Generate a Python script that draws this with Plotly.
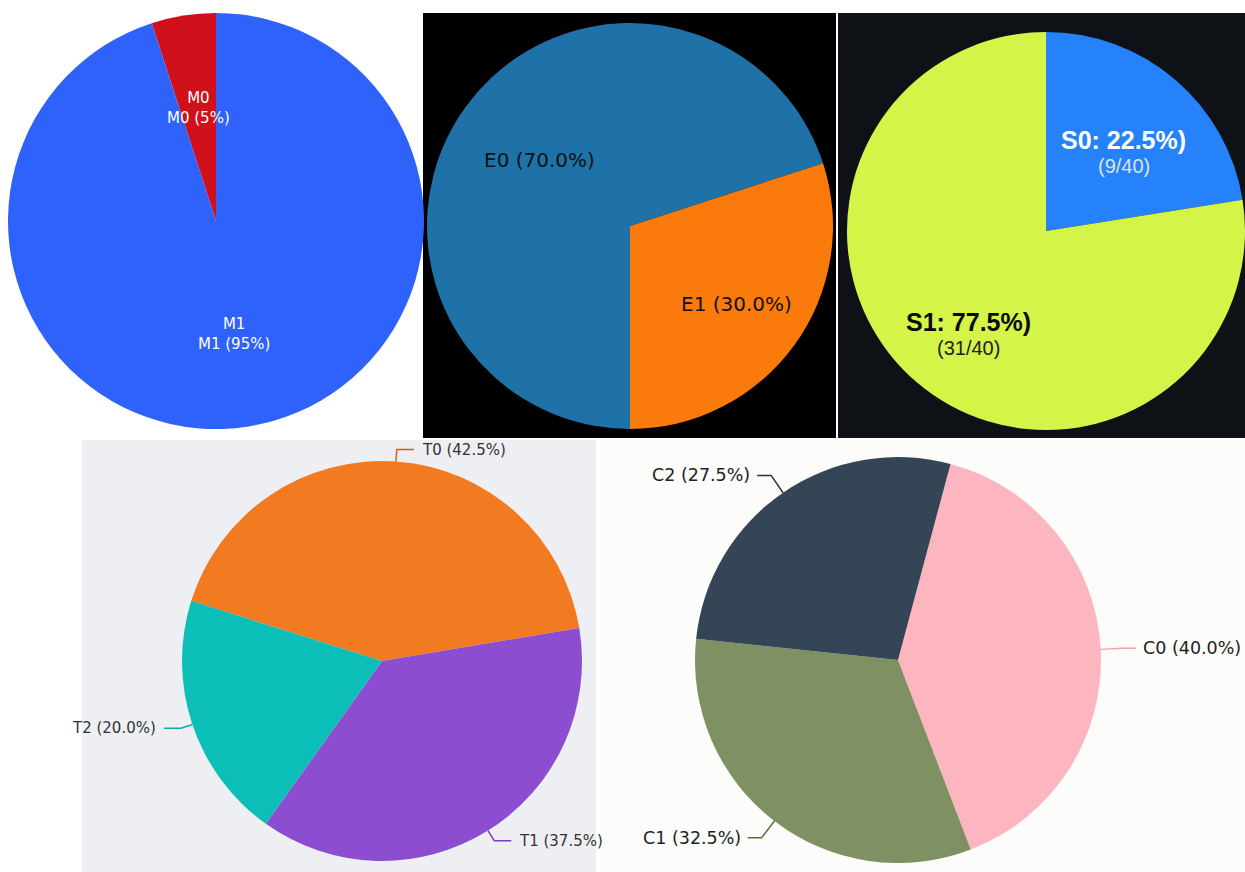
import math
import plotly.graph_objects as go

W, H = 1245, 872

# ---- data ----
m_labels = ["M0", "M1"]
m_values = [5, 95]

e_labels = ["E0", "E1"]
e_counts = [28, 12]

s_labels = ["S0", "S1"]
s_counts = [9, 31]

t_labels = ["T0", "T1", "T2"]
t_counts = [17, 15, 8]

c_labels = ["C0", "C1", "C2"]
c_counts = [16, 13, 11]

# ---- styling ----
m_colors = ["#d0111b", "#2f61fb"]
e_colors = ["#1f72a8", "#fb7a0c"]
s_colors = ["#2582fb", "#d4f447"]
t_colors = ["#f27a21", "#8c4dd1", "#0bbfb8"]
t_line_colors = ["#c0661c", "#7a3db8", "#13a9a2"]
c_colors = ["#fdb6c0", "#7f9062", "#344555"]
c_line_colors = ["#f2a3b0", "#5f6f32", "#2b333b"]

# pie geometry in pixels: centre x, centre y, radius
GEOM = {
    "M": (216, 221, 208),
    "E": (630, 226, 203),
    "S": (1046, 231, 199),
    "T": (382, 661, 200),
    "C": (898, 660, 203),
}


def domain(key):
    cx, cy, r = GEOM[key]
    x0, x1 = max(0, (cx - r) / W), min(1, (cx + r) / W)
    y0, y1 = max(0, 1 - (cy + r) / H), min(1, 1 - (cy - r) / H)
    return dict(x=[x0, x1], y=[y0, y1])


def mids(values, rotation):
    """Mid angles (deg, clockwise from 12 o'clock) of clockwise slices."""
    total = sum(values)
    out, a = [], rotation
    for v in values:
        span = 360.0 * v / total
        out.append(a + span / 2)
        a += span
    return out


def point(key, ang, frac):
    cx, cy, r = GEOM[key]
    rad = math.radians(ang)
    return cx + frac * r * math.sin(rad), cy - frac * r * math.cos(rad)


def paper(px, py):
    return px / W, 1 - py / H


def pct(values):
    t = sum(values)
    return [100.0 * v / t for v in values]


def label(x, y, text, font, xanchor="center"):
    return dict(x=x, y=y, xref="paper", yref="paper", showarrow=False,
                xanchor=xanchor, yanchor="middle", text=text, font=font)


fig = go.Figure()
annotations = []
shapes = []

# panel backgrounds
panels = [
    (423, 13, 836, 438, "#000000"),
    (838, 13, 1245, 438, "#0e1116"),
    (82, 440, 596, 872, "#eeeff2"),
    (600, 440, 1245, 872, "#fcfcfa"),
]
for x0, y0, x1, y1, col in panels:
    shapes.append(dict(type="rect", xref="paper", yref="paper",
                       x0=x0 / W, x1=x1 / W, y0=1 - y1 / H, y1=1 - y0 / H,
                       fillcolor=col, line=dict(width=0), layer="below"))

# ---- M pie ----
m_rot = -360.0 * m_values[0] / sum(m_values)
fig.add_trace(go.Pie(labels=m_labels, values=m_values, sort=False,
                     direction="clockwise", rotation=m_rot,
                     marker=dict(colors=m_colors), textinfo="none",
                     domain=domain("M"), showlegend=False))
for lab, p, ang, f in zip(m_labels, pct(m_values), mids(m_values, m_rot), [0.55, 0.55]):
    x, y = paper(*point("M", ang, f))
    annotations.append(label(x, y, f"{lab}<br>{lab} ({p:.0f}%)",
                             dict(family="DejaVu Sans", size=15, color="#ffffff")))

# ---- E pie ----
e_rot = 180
fig.add_trace(go.Pie(labels=e_labels, values=e_counts, sort=False,
                     direction="clockwise", rotation=e_rot,
                     marker=dict(colors=e_colors), textinfo="none",
                     domain=domain("E"), showlegend=False))
for lab, p, ang, f in zip(e_labels, pct(e_counts), mids(e_counts, e_rot), [0.55, 0.65]):
    x, y = paper(*point("E", ang, f))
    annotations.append(label(x, y, f"{lab} ({p:.1f}%)",
                             dict(family="DejaVu Sans", size=20, color="#111111")))

# ---- S pie ----
fig.add_trace(go.Pie(labels=s_labels, values=s_counts, sort=False,
                     direction="clockwise", rotation=0,
                     marker=dict(colors=s_colors), textinfo="none",
                     domain=domain("S"), showlegend=False))
s_total = sum(s_counts)
s_main = ["#ffffff", "#0a0a0a"]
s_sub = ["#dde3ea", "#222222"]
for i, (lab, n, p, ang) in enumerate(zip(s_labels, s_counts, pct(s_counts), mids(s_counts, 0))):
    px, py = point("S", ang, 0.6)
    x, y = paper(px, py)
    annotations.append(label(x, y, f"<b>{lab}: {p:.1f}%)</b>",
                             dict(family="Liberation Sans", size=25, color=s_main[i])))
    x, y = paper(px, py + 26)
    annotations.append(label(x, y, f"({n}/{s_total})",
                             dict(family="Liberation Sans", size=20, color=s_sub[i])))


def outside_labels(key, labels, values, rotation, line_colors, radial, horiz, gap,
                   size, color):
    for lab, p, ang, lc in zip(labels, pct(values), mids(values, rotation), line_colors):
        cx, cy, r = GEOM[key]
        p0 = point(key, ang, 1.0)
        p1 = point(key, ang, 1.0 + radial / r)
        side = 1 if math.sin(math.radians(ang)) >= 0 else -1
        p2 = (p1[0] + side * horiz, p1[1])
        a, b, c = paper(*p0), paper(*p1), paper(*p2)
        shapes.append(dict(type="path", xref="paper", yref="paper",
                           path=f"M {a[0]},{a[1]} L {b[0]},{b[1]} L {c[0]},{c[1]}",
                           line=dict(color=lc, width=1.5)))
        tx, ty = paper(p2[0] + side * gap, p2[1])
        annotations.append(label(tx, ty, f"{lab} ({p:.1f}%)",
                                 dict(family="DejaVu Sans", size=size, color=color),
                                 xanchor="left" if side > 0 else "right"))


# ---- T pie ----
t_rot = -72.5
fig.add_trace(go.Pie(labels=t_labels, values=t_counts, sort=False,
                     direction="clockwise", rotation=t_rot,
                     marker=dict(colors=t_colors), textinfo="none",
                     domain=domain("T"), showlegend=False))
outside_labels("T", t_labels, t_counts, t_rot, t_line_colors, 12, 17, 6, 15, "#333333")

# ---- C pie ----
c_rot = 15
fig.add_trace(go.Pie(labels=c_labels, values=c_counts, sort=False,
                     direction="clockwise", rotation=c_rot,
                     marker=dict(colors=c_colors), textinfo="none",
                     domain=domain("C"), showlegend=False))
outside_labels("C", c_labels, c_counts, c_rot, c_line_colors, 21, 14, 5, 17.5, "#222222")

fig.update_layout(width=W, height=H, margin=dict(l=0, r=0, t=0, b=0),
                  paper_bgcolor="#ffffff", plot_bgcolor="#ffffff",
                  annotations=annotations, shapes=shapes, showlegend=False)

fig.write_html("out.html")
